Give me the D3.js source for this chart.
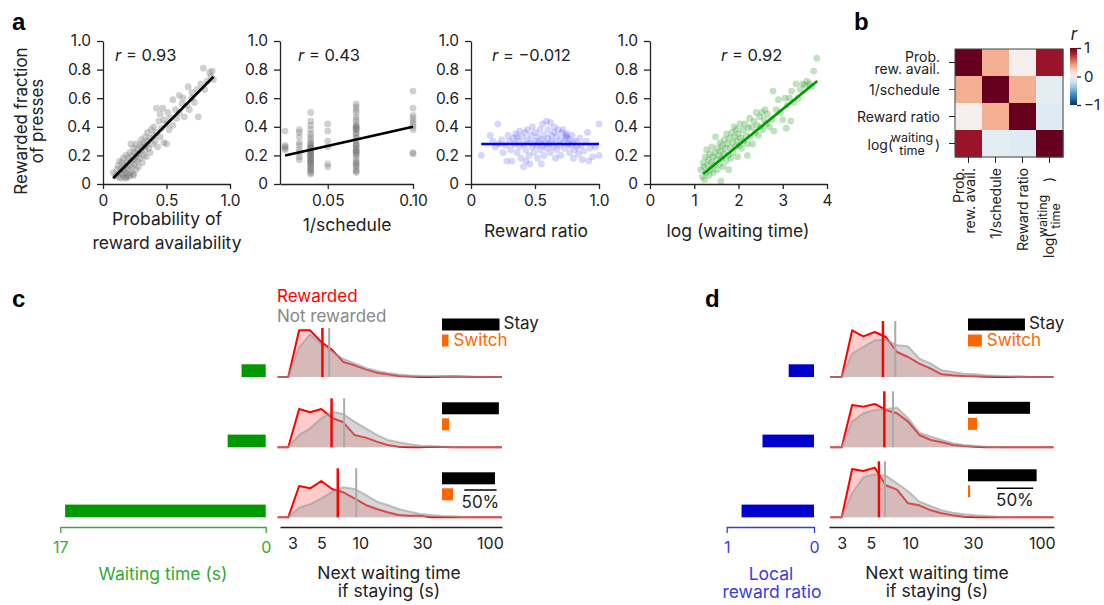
<!DOCTYPE html>
<html>
<head>
<meta charset="utf-8">
<script src="https://cdn.jsdelivr.net/npm/d3@7"></script>
<style>
  body { margin: 0; background: #fff; }
  svg { display: block; font-family: Inter, "Noto Sans", sans-serif; }
</style>
</head>
<body>
<svg width="1104" height="605"></svg>
<script>
const svg = d3.select("svg")
const ink = "#222"

// ---------- panel a data ----------
// [probability of reward availability, rewarded fraction]
const probAvail = [
  [0.08,0.08],[0.1,0.06],[0.11,0.1],[0.12,0.05],[0.12,0.13],[0.13,0.08],[0.14,0.04],[0.14,0.11],
  [0.15,0.07],[0.15,0.15],[0.16,0.05],[0.16,0.1],[0.16,0.18],[0.17,0.08],[0.17,0.13],[0.18,0.04],
  [0.18,0.11],[0.18,0.2],[0.19,0.07],[0.19,0.15],[0.2,0.1],[0.2,0.18],[0.2,0.05],[0.21,0.13],
  [0.21,0.22],[0.22,0.08],[0.22,0.16],[0.22,0.28],[0.23,0.12],[0.23,0.2],[0.24,0.06],[0.24,0.17],
  [0.24,0.25],[0.25,0.14],[0.25,0.22],[0.26,0.1],[0.26,0.19],[0.26,0.28],[0.27,0.16],[0.27,0.24],
  [0.28,0.12],[0.28,0.21],[0.29,0.27],[0.29,0.18],[0.3,0.23],[0.3,0.31],[0.31,0.15],[0.31,0.26],
  [0.32,0.2],[0.32,0.29],[0.33,0.24],[0.33,0.33],[0.34,0.27],[0.34,0.19],[0.35,0.3],[0.35,0.36],
  [0.36,0.25],[0.37,0.32],[0.37,0.22],[0.38,0.38],[0.39,0.28],[0.4,0.34],[0.4,0.4],[0.41,0.3],
  [0.42,0.53],[0.42,0.36],[0.43,0.26],[0.44,0.44],[0.45,0.33],[0.45,0.49],[0.46,0.39],[0.47,0.53],
  [0.48,0.29],[0.48,0.45],[0.5,0.28],[0.5,0.42],[0.51,0.5],[0.52,0.38],[0.53,0.46],[0.55,0.59],
  [0.55,0.41],[0.57,0.52],[0.58,0.46],[0.6,0.62],[0.6,0.5],[0.62,0.56],[0.63,0.6],[0.64,0.47],
  [0.66,0.55],[0.67,0.68],[0.68,0.52],[0.7,0.6],[0.7,0.64],[0.72,0.57],[0.74,0.66],[0.75,0.47],
  [0.77,0.7],[0.79,0.81],[0.8,0.66],[0.82,0.72],[0.84,0.78],[0.85,0.75],[0.87,0.73],[0.86,0.79],
  [0.18,0.05],[0.24,0.07],[0.13,0.16],[0.21,0.06]
]
// [schedule, rewarded fractions of sessions on that schedule]
const scheduleGroups = [
  [40, [0.37,0.27,0.25,0.24,0.26]],
  [30, [0.38,0.36,0.33,0.29,0.27,0.22,0.19,0.17,0.24]],
  [25, [0.5,0.44,0.41,0.38,0.35,0.33,0.31,0.29,0.28,0.27,0.26,0.25,0.24,0.23,0.22,0.21,0.2,0.19,
        0.18,0.17,0.16,0.15,0.14,0.13,0.12,0.11,0.1,0.09,0.08,0.07,0.22,0.25,0.2,0.15,0.17]],
  [20, [0.42,0.37,0.3,0.26,0.14,0.12]],
  [15, [0.56,0.54,0.52,0.5,0.47,0.45,0.43,0.41,0.4,0.39,0.38,0.36,0.35,0.33,0.32,0.3,0.28,0.27,
        0.25,0.24,0.23,0.22,0.21,0.2,0.18,0.16,0.15,0.14,0.13,0.12,0.1,0.09,0.08,0.38,0.4,0.23,0.27]],
  [10, [0.65,0.53,0.48,0.46,0.44,0.42,0.4,0.38,0.22,0.21]]
]
// [reward ratio, rewarded fraction]
const rewRatio = [
  [0.08,0.2],[0.15,0.34],[0.17,0.3],[0.19,0.26],[0.21,0.42],[0.22,0.28],[0.24,0.31],[0.25,0.22],
  [0.27,0.27],[0.28,0.16],[0.3,0.3],[0.31,0.24],[0.32,0.16],[0.33,0.32],[0.34,0.28],[0.35,0.35],
  [0.36,0.22],[0.37,0.3],[0.38,0.26],[0.38,0.37],[0.39,0.18],[0.4,0.33],[0.41,0.28],[0.41,0.12],
  [0.42,0.36],[0.43,0.24],[0.44,0.31],[0.44,0.38],[0.45,0.2],[0.46,0.29],[0.46,0.14],[0.47,0.34],
  [0.48,0.26],[0.48,0.4],[0.49,0.22],[0.5,0.3],[0.5,0.36],[0.51,0.27],[0.52,0.33],[0.52,0.18],
  [0.53,0.29],[0.54,0.38],[0.54,0.24],[0.55,0.31],[0.56,0.27],[0.56,0.42],[0.57,0.2],[0.57,0.34],
  [0.58,0.29],[0.59,0.44],[0.59,0.25],[0.6,0.32],[0.6,0.38],[0.61,0.28],[0.62,0.43],[0.62,0.22],
  [0.63,0.34],[0.63,0.3],[0.64,0.26],[0.65,0.36],[0.65,0.4],[0.66,0.29],[0.67,0.24],[0.67,0.33],
  [0.68,0.38],[0.69,0.27],[0.7,0.31],[0.7,0.2],[0.71,0.36],[0.72,0.29],[0.73,0.25],[0.74,0.34],
  [0.74,0.33],[0.75,0.32],[0.75,0.35],[0.76,0.28],[0.77,0.22],[0.77,0.31],[0.78,0.27],[0.79,0.34],
  [0.8,0.18],[0.8,0.29],[0.81,0.24],[0.82,0.3],[0.83,0.26],[0.84,0.21],[0.85,0.32],[0.86,0.27],
  [0.87,0.17],[0.88,0.23],[0.9,0.3],[0.91,0.36],[0.92,0.16],[0.93,0.25],[0.95,0.19],[0.97,0.26],
  [1.0,0.2],[1.0,0.42],[0.55,0.14],[0.43,0.16],[0.66,0.18],[0.72,0.38],[0.36,0.33],[0.29,0.34]
]
// [log waiting time, rewarded fraction]
const logWait = [
  [1.15,0.1],[1.18,0.05],[1.2,0.15],[1.22,0.12],[1.23,0.03],[1.25,0.19],[1.27,0.08],[1.28,0.24],
  [1.3,0.13],[1.32,0.17],[1.33,0.06],[1.35,0.21],[1.37,0.1],[1.38,0.15],[1.4,0.26],[1.42,0.19],
  [1.43,0.08],[1.45,0.13],[1.47,0.22],[1.48,0.33],[1.5,0.17],[1.52,0.1],[1.53,0.25],[1.55,0.2],
  [1.57,0.14],[1.58,0.29],[1.6,0.02],[1.6,0.23],[1.62,0.18],[1.63,0.27],[1.65,0.12],[1.67,0.21],
  [1.68,0.31],[1.7,0.25],[1.72,0.16],[1.73,0.35],[1.75,0.28],[1.77,0.2],[1.78,0.1],[1.8,0.32],
  [1.82,0.25],[1.83,0.18],[1.85,0.36],[1.87,0.29],[1.88,0.22],[1.9,0.4],[1.92,0.33],[1.93,0.26],
  [1.95,0.38],[1.97,0.3],[1.98,0.19],[2.0,0.35],[2.02,0.27],[2.03,0.42],[2.05,0.32],[2.07,0.25],
  [2.1,0.38],[2.12,0.3],[2.15,0.42],[2.17,0.34],[2.2,0.2],[2.2,0.28],[2.22,0.39],[2.25,0.46],
  [2.27,0.33],[2.3,0.4],[2.32,0.28],[2.35,0.44],[2.38,0.36],[2.4,0.5],[2.42,0.41],[2.45,0.34],
  [2.48,0.47],[2.5,0.4],[2.53,0.5],[2.55,0.38],[2.58,0.45],[2.6,0.52],[2.63,0.42],[2.65,0.49],
  [2.7,0.4],[2.75,0.45],[2.78,0.65],[2.8,0.37],[2.85,0.52],[2.9,0.59],[2.95,0.5],[3.0,0.45],
  [3.05,0.6],[3.08,0.39],[3.1,0.55],[3.15,0.6],[3.18,0.44],[3.2,0.65],[3.25,0.57],[3.3,0.7],
  [3.35,0.6],[3.4,0.66],[3.45,0.7],[3.5,0.69],[3.55,0.72],[3.6,0.7],[3.65,0.68],[3.7,0.79],[3.77,0.88]
]
// fitted lines, end points
const fitProb = [[0.08,0.04],[0.87,0.75]]
const fitSched = [[0.025,0.2],[0.1,0.4]]
const fitRatio = [[0.08,0.28],[1.0,0.28]]
const fitLog = [[1.2,0.07],[3.78,0.72]]
const rValues = ["0.93", "0.43", "\u22120.012", "0.92"]

const yTicks = [0, 0.2, 0.4, 0.6, 0.8, 1]
const yTickLabels = ["0", "0.2", "0.4", "0.6", "0.8", "1.0"]

// ---------- panel b data ----------
const corrVars = ["prob", "sched", "ratio", "wait"]
const corr = [
  [1, 0.36, 0.02, 0.86],
  [0.36, 1, 0.36, -0.1],
  [0.02, 0.36, 1, -0.12],
  [0.86, -0.1, -0.12, 1]
]

// ---------- panels c, d data ----------
const binsC = [2.3,2.78,3.37,4.1,5.0,6.1,7.4,9.0,11.0,13.4,16.2,19.7,24,29,35,43,52,63,77,93,113,124]
const binsD = [2.45,3.0,3.6,4.38,5.35,6.5,7.9,9.6,11.7,14.3,17.3,21,25.6,31,37.5,46,56,67,82,100,116,123]
// % of trials per bin, three rows each
const rewC = [
  [0,0,14.0,14.0,10.5,8.0,4.5,3.5,2.3,1.3,0.8,0.3,0.15,0,0,0.1,0.15,0.1,0,0,0,0],
  [0,0,11.5,10.5,11.5,8.7,7.5,3.7,2.9,1.7,0.7,0.2,0,0,0.2,0.1,0,0,0,0,0,0],
  [0,0,9.4,8.7,10.9,8.4,7.5,5.7,3.7,2.5,1.5,0.7,0.5,0.5,0,0.1,0,0,0,0,0,0]
]
const noRewC = [
  [0,0,8.9,12.8,9.9,7.5,5.4,4.1,2.7,1.8,1.2,0.75,0.45,0.36,0.3,0.3,0.24,0.15,0.1,0.06,0,0],
  [0,0,3.7,5.7,8.7,10.7,9.9,7.7,5.7,3.7,2.2,1.5,0.9,0.5,0.3,0.2,0.1,0,0,0,0,0],
  [0,0,2.9,3.9,5.7,7.7,9,8.5,6.7,4.7,3.7,2.5,1.7,1,0.7,0.4,0.3,0.1,0,0,0,0]
]
const rewD = [
  [0,0,14,12.2,13.5,12,7.5,6,4,2.5,0.8,0.5,0.3,0.2,0.1,0,0,0.1,0,0,0,0],
  [0,0,12.7,12.2,13,11.2,10.2,7.7,3.7,2.2,1.5,0.7,0.4,0.2,0,0,0,0,0,0,0,0],
  [0,0,14.5,13.9,14.9,9.6,8.3,4.2,3.6,2.1,1.2,0.6,0.2,0,0,0,0,0,0,0,0,0]
]
const noRewD = [
  [0,0,7,9,11,11.2,9.5,9.2,5.5,4,2,1.5,1,0.8,0.5,0.4,0.2,0.1,0,0,0,0],
  [0,0,7.7,10.2,11.2,11.5,11.9,8.7,4.4,3.2,2.2,1.2,0.7,0.4,0.2,0.1,0,0,0,0,0,0],
  [0,0,7.2,12,12.9,12.5,10.2,7.8,4.7,3.3,2.1,1.4,0.9,0.6,0.4,0.2,0.1,0,0,0,0,0]
]
const medRewC = [5.1, 6.0, 6.7]
const medNoRewC = [5.75, 7.5, 9.3]
const medRewD = [6.18, 6.33, 5.76]
const medNoRewD = [7.67, 7.37, 6.4]
const stayC = [89, 88, 82]
const switchC = [10, 11, 17]
const stayD = [78, 85, 94]
const switchD = [19, 12.5, 3]
const waitTimes = [2.0, 3.15, 16.6]
const localRatio = [0.29, 0.59, 0.83]
const histTicks = [3, 5, 10, 30, 100]

// ---------- helpers ----------
const styleAxis = (g, size, color) => {
  g.attr("font-family", null).attr("font-size", size)
  g.selectAll("path, line").attr("stroke", color).attr("stroke-width", 1.3)
  g.selectAll("text").attr("fill", color)
}
const label = (x, y, txt, opts = {}) =>
  svg.append("text").attr("x", x).attr("y", y)
    .attr("text-anchor", opts.anchor || "middle")
    .attr("font-size", opts.size || 17.5)
    .attr("font-weight", opts.weight || null)
    .attr("font-family", opts.family || null)
    .attr("fill", opts.color || ink)
    .text(txt)

// ---------- panel a ----------
const yA = d3.scaleLinear().domain([0, 1]).range([184, 41])

const scatter = (cfg) => {
  const x = d3.scaleLinear().domain(cfg.domain).range(cfg.range)
  const g = svg.append("g")
  g.append("g").selectAll("circle").data(cfg.points).join("circle")
    .attr("cx", d => x(d[0])).attr("cy", d => yA(d[1])).attr("r", 3.4)
    .attr("fill", cfg.dot).attr("fill-opacity", cfg.alpha)
  g.append("line")
    .attr("x1", x(cfg.fit[0][0])).attr("y1", yA(cfg.fit[0][1]))
    .attr("x2", x(cfg.fit[1][0])).attr("y2", yA(cfg.fit[1][1]))
    .attr("stroke", cfg.lineColor).attr("stroke-width", 2.6)
  const xAxis = g.append("g").attr("transform", "translate(0,184)")
    .call(d3.axisBottom(x).tickValues(cfg.ticks).tickFormat((d, i) => cfg.tickLabels[i])
      .tickSize(5).tickPadding(6).tickSizeOuter(0))
  styleAxis(xAxis, 15.5, ink)
  const yAxis = g.append("g").attr("transform", `translate(${cfg.range[0]},0)`)
    .call(d3.axisLeft(yA).tickValues(yTicks).tickFormat((d, i) => yTickLabels[i])
      .tickSize(6).tickPadding(6).tickSizeOuter(0))
  styleAxis(yAxis, 15.5, ink)
  const rt = svg.append("text").attr("x", cfg.rx).attr("y", 60.5).attr("font-size", 16.5).attr("fill", ink)
  rt.append("tspan").attr("font-style", "italic").text("r")
  rt.append("tspan").text(" = " + cfg.r)
  cfg.title.forEach((t, i) => label(cfg.titleX, cfg.titleY + i * 24.5, t))
}

scatter({ domain: [0, 1], range: [103, 230], ticks: [0, 0.5, 1], tickLabels: ["0", "0.5", "1.0"],
  points: probAvail, fit: fitProb, dot: "#777", alpha: 0.35, lineColor: "#000",
  r: rValues[0], rx: 115, title: ["Probability of", "reward availability"], titleX: 167, titleY: 224.5 })

scatter({ domain: [0.022, 0.1], range: [280, 413], ticks: [0.05, 0.1], tickLabels: ["0.05", "0.10"],
  points: scheduleGroups.flatMap(([s, ys]) => ys.map(v => [1 / s, v])), fit: fitSched,
  dot: "#777", alpha: 0.35, lineColor: "#000",
  r: rValues[1], rx: 298, title: ["1/schedule"], titleX: 347, titleY: 231 })

scatter({ domain: [0, 1], range: [471, 599], ticks: [0, 0.5, 1], tickLabels: ["0", "0.5", "1.0"],
  points: rewRatio, fit: fitRatio, dot: "#5a5aff", alpha: 0.25, lineColor: "#0000ff",
  r: rValues[2], rx: 492, title: ["Reward ratio"], titleX: 536, titleY: 237 })

scatter({ domain: [0, 4], range: [650, 827], ticks: [0, 1, 2, 3, 4], tickLabels: ["0", "1", "2", "3", "4"],
  points: logWait, fit: fitLog, dot: "#2ca02c", alpha: 0.3, lineColor: "#009900",
  r: rValues[3], rx: 721, title: ["log (waiting time)"], titleX: 738, titleY: 237 })

svg.append("text").attr("transform", "translate(27,121) rotate(-90)")
  .attr("text-anchor", "middle").attr("font-size", 17).attr("fill", ink).text("Rewarded fraction")
svg.append("text").attr("transform", "translate(43,121) rotate(-90)")
  .attr("text-anchor", "middle").attr("font-size", 17).attr("fill", ink).text("of presses")

// ---------- panel b ----------
const hx = d3.scaleBand().domain(corrVars).range([955, 1063])
const hy = d3.scaleBand().domain(corrVars).range([49, 157])
const corrColor = v => d3.interpolateRdBu((1 - v) / 2)
const hg = svg.append("g")
corr.forEach((row, i) => row.forEach((v, j) => {
  hg.append("rect").attr("x", hx(corrVars[j])).attr("y", hy(corrVars[i]))
    .attr("width", hx.bandwidth() + 0.5).attr("height", hy.bandwidth() + 0.5).attr("fill", corrColor(v))
}))
hg.append("rect").attr("x", 955).attr("y", 49).attr("width", 108).attr("height", 108)
  .attr("fill", "none").attr("stroke", "#444").attr("stroke-width", 1)
corrVars.forEach(v => {
  const cy = hy(v) + hy.bandwidth() / 2
  const cx = hx(v) + hx.bandwidth() / 2
  hg.append("line").attr("x1", 949).attr("x2", 955).attr("y1", cy).attr("y2", cy).attr("stroke", ink)
  hg.append("line").attr("x1", cx).attr("x2", cx).attr("y1", 157).attr("y2", 163).attr("stroke", ink)
})
const hSize = 14
const rowLab = (v, lines) => {
  const cy = hy(v) + hy.bandwidth() / 2
  if (lines.length === 1) label(940, cy + 5, lines[0], { anchor: "end", size: hSize })
  else { label(940, cy - 1, lines[0], { anchor: "end", size: hSize }); label(940, cy + 11.5, lines[1], { anchor: "end", size: hSize }) }
}
rowLab("prob", ["Prob.", "rew. avail."])
rowLab("sched", ["1/schedule"])
rowLab("ratio", ["Reward ratio"])
{
  const cy = hy("wait") + hy.bandwidth() / 2
  label(893, cy + 6.5, "log(", { anchor: "end", size: hSize })
  label(912, cy - 2, "waiting", { size: 12.5 })
  label(912, cy + 11.5, "time", { size: 12.5 })
  label(935, cy + 6.5, ")", { anchor: "start", size: hSize })
}
const colLab = (v, lines) => {
  const cx = hx(v) + hx.bandwidth() / 2
  const g = svg.append("g").attr("transform", `translate(${cx},168) rotate(-90)`)
  const offs = lines.length === 1 ? [5] : [-5, 6.5]
  lines.forEach((t, i) => g.append("text").attr("x", 0).attr("y", offs[i]).attr("text-anchor", "end")
    .attr("font-size", hSize).attr("fill", ink).text(t))
  return g
}
colLab("prob", ["Prob.", "rew. avail."])
colLab("sched", ["1/schedule"])
colLab("ratio", ["Reward ratio"])
{
  const cx = hx("wait") + hx.bandwidth() / 2
  const g = svg.append("g").attr("transform", `translate(${cx},168) rotate(-90)`)
  g.append("text").attr("x", -90).attr("y", 4).attr("font-size", hSize).attr("fill", ink).text("log(")
  g.append("text").attr("x", -48).attr("y", -2.5).attr("text-anchor", "middle").attr("font-size", 12.5).attr("fill", ink).text("waiting")
  g.append("text").attr("x", -48).attr("y", 10).attr("text-anchor", "middle").attr("font-size", 12.5).attr("fill", ink).text("time")
  g.append("text").attr("x", -14).attr("y", 4).attr("font-size", hSize).attr("fill", ink).text(")")
}
// colour bar
const cb = d3.scaleLinear().domain([-1, 1]).range([105, 48])
const grad = svg.append("defs").append("linearGradient").attr("id", "rdbu")
  .attr("x1", 0).attr("x2", 0).attr("y1", 1).attr("y2", 0)
d3.range(0, 1.01, 0.1).forEach(t => grad.append("stop").attr("offset", t).attr("stop-color", d3.interpolateRdBu(1 - t)))
svg.append("rect").attr("x", 1070).attr("y", 48).attr("width", 7).attr("height", 57).attr("fill", "url(#rdbu)")
const cbAxis = svg.append("g").attr("transform", "translate(1077,0)")
  .call(d3.axisRight(cb).tickValues([-1, 0, 1]).tickFormat(d => d === -1 ? "\u22121" : d).tickSize(4).tickPadding(3).tickSizeOuter(0))
styleAxis(cbAxis, 15, ink)
cbAxis.select(".domain").remove()
label(1074, 40, "r", { size: 17 }).attr("font-style", "italic")

// ---------- panels c, d ----------
const rowBase = [377, 447.3, 517.3]
const hScale = d3.scaleLinear().domain([0, 15]).range([0, 50])

const histPanel = (cfg) => {
  const x = d3.scaleLog().domain([2.4, 124]).range(cfg.range)
  const bar = d3.scaleLinear().domain([0, 100]).range([0, cfg.barW])
  const g = svg.append("g")
  rowBase.forEach((b, i) => {
    const area = d3.area().x((d, j) => x(cfg.bins[j])).y0(b).y1(d => b - hScale(d))
    const line = area.lineY1()
    g.append("path").datum(cfg.rew[i]).attr("d", area).attr("fill", "rgba(255,0,0,0.2)")
    g.append("path").datum(cfg.rew[i]).attr("d", line).attr("fill", "none")
      .attr("stroke", "#ff0000").attr("stroke-width", 2).attr("stroke-linejoin", "round")
    g.append("path").datum(cfg.noRew[i]).attr("d", area).attr("fill", "rgba(165,165,165,0.45)")
    g.append("path").datum(cfg.noRew[i]).attr("d", line).attr("fill", "none")
      .attr("stroke", "#999").attr("stroke-opacity", 0.6).attr("stroke-width", 2).attr("stroke-linejoin", "round")
    g.append("line").attr("x1", x(cfg.medNoRew[i])).attr("x2", x(cfg.medNoRew[i]))
      .attr("y1", b).attr("y2", b - cfg.vlineH).attr("stroke", "#aaa").attr("stroke-width", 2)
    g.append("line").attr("x1", x(cfg.medRew[i])).attr("x2", x(cfg.medRew[i]))
      .attr("y1", b).attr("y2", b - cfg.vlineH).attr("stroke", "#ff0000").attr("stroke-width", 2.5)
    // stay / switch proportions
    const top = b + cfg.barOff[i]
    g.append("rect").attr("x", cfg.barX).attr("y", top).attr("width", bar(cfg.stay[i])).attr("height", 12).attr("fill", "#000")
    g.append("rect").attr("x", cfg.barX).attr("y", top + 16).attr("width", bar(cfg.sw[i])).attr("height", 12).attr("fill", "#ff6600")
    // left-hand condition bars
    g.append("rect").attr("x", cfg.left(cfg.cond[i])).attr("y", b - 12.7)
      .attr("width", cfg.left(0) - cfg.left(cfg.cond[i])).attr("height", 12.7).attr("fill", cfg.condColor)
  })
  label(cfg.barX + bar(cfg.stay[0]) + 4, 329, "Stay", { anchor: "start", size: 17 })
  label(cfg.barX + bar(cfg.sw[0]) + 5, 346, "Switch", { anchor: "start", size: 17, color: "#ff6600" })
  // 50% scale bar
  const sx = cfg.scaleX
  g.append("line").attr("x1", sx).attr("x2", sx + bar(50)).attr("y1", cfg.scaleY).attr("y2", cfg.scaleY)
    .attr("stroke", "#000").attr("stroke-width", 1.5)
  label(sx + bar(50) / 2, cfg.scaleY + 17.5, "50%", { size: 17 })
  const ax = g.append("g").attr("transform", "translate(0,527)")
    .call(d3.axisBottom(x).tickValues(histTicks).tickFormat(d3.format("d")).tickSize(0).tickPadding(11).tickSizeOuter(0))
  styleAxis(ax, 16, ink)
  label(cfg.titleX, 579, "Next waiting time")
  label(cfg.titleX, 597, "if staying (s)")
  const la = g.append("g").attr("transform", "translate(0,527)")
    .call(d3.axisBottom(cfg.left).tickValues(cfg.condTicks).tickFormat(d3.format("d"))
      .tickSize(6).tickPadding(9).tickSizeOuter(6))
  styleAxis(la, 16, cfg.axisColor)
  la.selectAll(".tick line").remove()
}

histPanel({ range: [280, 502], bins: binsC, rew: rewC, noRew: noRewC, medRew: medRewC, medNoRew: medNoRewC,
  vlineH: 49, stay: stayC, sw: switchC, barX: 442, barW: 64.6, barOff: [-58.5, -45, -45],
  scaleX: 464.3, scaleY: 490, titleX: 389,
  left: d3.scaleLinear().domain([0, 17]).range([265.7, 60.3]), cond: waitTimes, condTicks: [17, 0],
  condColor: "#009900", axisColor: "#33aa33" })

histPanel({ range: [829, 1054], bins: binsD, rew: rewD, noRew: noRewD, medRew: medRewD, medNoRew: medNoRewD,
  vlineH: 56, stay: stayD, sw: switchD, barX: 968, barW: 73, barOff: [-58.5, -45.5, -48],
  scaleX: 996.7, scaleY: 488.3, titleX: 937,
  left: d3.scaleLinear().domain([0, 1]).range([814, 726.7]), cond: localRatio, condTicks: [1, 0],
  condColor: "#0000cc", axisColor: "#3b3be6" })

label(163, 580, "Waiting time (s)", { color: "#33aa33" })
label(771, 580, "Local", { color: "#3b3be6" })
label(772, 598, "reward ratio", { color: "#3b3be6" })

label(277, 302, "Rewarded", { anchor: "start", size: 17, color: "#ff0000" })
label(277, 322, "Not rewarded", { anchor: "start", size: 17, color: "#888" })

// panel letters
const letter = (x, y, t) => label(x, y, t, { anchor: "start", size: 24, weight: "bold", family: "'Liberation Sans', Arial, sans-serif", color: "#000" })
letter(12, 30, "a")
letter(854, 30, "b")
letter(12, 307, "c")
letter(705, 307, "d")
</script>
</body>
</html>
